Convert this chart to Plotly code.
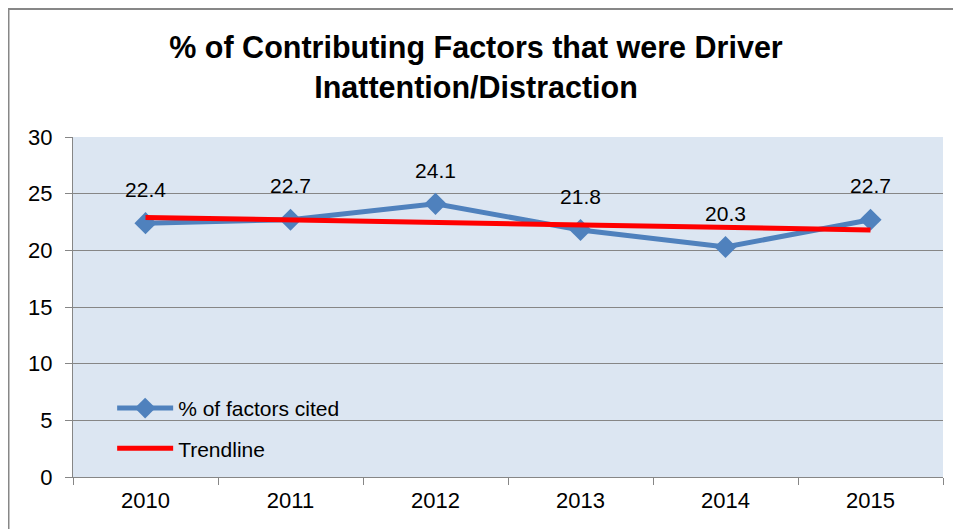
import plotly.graph_objects as go

years = ["2010", "2011", "2012", "2013", "2014", "2015"]
pct_cited = [22.4, 22.7, 24.1, 21.8, 20.3, 22.7]
trend_years = ["2010", "2015"]
trend_values = [22.9, 21.8]
y_ticks = [0, 5, 10, 15, 20, 25, 30]

FONT = "Liberation Sans, Arial, sans-serif"
BLUE = "#4F81BD"
RED = "#FF0000"
GRID = "#868686"

fig = go.Figure()
fig.add_trace(go.Scatter(
    x=years, y=pct_cited, mode="lines+markers", name="% of factors cited",
    line=dict(color=BLUE, width=5),
    marker=dict(symbol="diamond", size=17, color=BLUE),
    legendgroup="a",
))
fig.add_trace(go.Scatter(
    x=trend_years, y=trend_values, mode="lines", name="Trendline",
    line=dict(color=RED, width=5),
    legendgroup="b",
))
# data labels above each point
fig.add_trace(go.Scatter(
    x=years, y=pct_cited, mode="markers+text",
    text=[str(v) for v in pct_cited], textposition="top center",
    textfont=dict(family=FONT, size=21, color="#000000"),
    marker=dict(size=32, opacity=0),
    showlegend=False, hoverinfo="skip", cliponaxis=False,
))

fig.update_layout(
    width=961, height=529,
    margin=dict(l=65, r=26, t=129, b=60),
    paper_bgcolor="white", plot_bgcolor="#DCE6F2",
    font=dict(family=FONT, size=21, color="#000000"),
    title=dict(
        text="<b>% of Contributing Factors that were Driver<br>Inattention/Distraction</b>",
        x=0.487, xanchor="center", y=0.905, yanchor="middle",
        font=dict(family=FONT, size=30.5, color="#000000"),
    ),
    showlegend=True,
    legend=dict(
        x=0.045, y=0.262, xanchor="left", yanchor="top",
        bgcolor="rgba(0,0,0,0)", tracegroupgap=10, itemwidth=56,
        font=dict(family=FONT, size=21, color="#000000"),
    ),
    xaxis=dict(
        type="category", range=[-0.5, 5.5],
        showgrid=False, showline=True, linecolor=GRID, linewidth=1.3,
        ticks="outside", tickson="boundaries", ticklen=7, tickcolor=GRID,
        tickfont=dict(family=FONT, size=22), ticklabelstandoff=3,
    ),
    yaxis=dict(
        range=[0, 30], tickvals=y_ticks,
        showgrid=True, gridcolor=GRID, gridwidth=1.3,
        showline=True, linecolor=GRID, linewidth=1.3,
        ticks="outside", ticklen=7, tickcolor=GRID,
        tickfont=dict(family=FONT, size=22), zeroline=False,
        ticklabelstandoff=8,
    ),
    shapes=[dict(
        type="rect", xref="paper", yref="paper",
        x0=(0.5 - 65) / 870, x1=(990 - 65) / 870,
        y0=-(560 - 469) / 340, y1=(469 - 1) / 340,
        line=dict(color="#878787", width=2), fillcolor="rgba(0,0,0,0)",
        layer="below",
    )],
)

fig.write_html("out.html")
